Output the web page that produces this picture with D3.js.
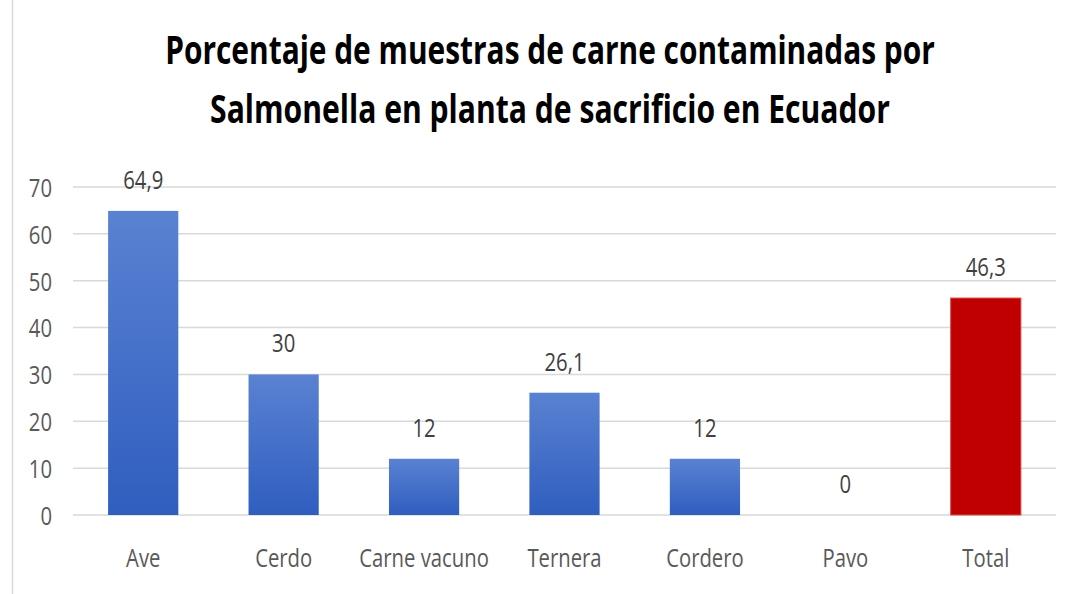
<!DOCTYPE html>
<html>
<head>
<meta charset="utf-8">
<script src="https://cdn.jsdelivr.net/npm/d3@7"></script>
<style>
  body { margin: 0; background: #fff; }
  text { font-family: "Open Sans", sans-serif; }
</style>
</head>
<body>
<div id="chart"></div>
<script>
var categories = ["Ave", "Cerdo", "Carne vacuno", "Ternera", "Cordero", "Pavo", "Total"];
var values = [64.9, 30, 12, 26.1, 12, 0, 46.3];
var valueLabels = ["64,9", "30", "12", "26,1", "12", "0", "46,3"];
var yTicks = [0, 10, 20, 30, 40, 50, 60, 70];
var titleLines = ["Porcentaje de muestras de carne contaminadas por", "Salmonella en planta de sacrificio en Ecuador"];

var width = 1079;
var height = 594;
var sx = 0.78; // horizontal squeeze of the text, like the source image

var svg = d3.select("#chart")
    .append("svg")
        .attr("width", width)
        .attr("height", height);

// gradient for the blue bars
var defs = svg.append("defs");
var grad = defs.append("linearGradient")
    .attr("id", "blueGrad")
    .attr("x1", 0).attr("y1", 0).attr("x2", 0).attr("y2", 1);
grad.append("stop").attr("offset", "0%").attr("stop-color", "#5a82d2");
grad.append("stop").attr("offset", "100%").attr("stop-color", "#2f5ebf");

// faint left border
svg.append("line")
    .attr("x1", 12.5).attr("x2", 12.5)
    .attr("y1", 0).attr("y2", height)
    .attr("stroke", "#d9d9d9")
    .attr("stroke-width", 1.5);

// title, squeezed to the width it has in the source
var titleWidths = [770, 680];
svg.selectAll(".title")
    .data(titleLines)
    .enter().append("text")
    .attr("class", "title")
    .attr("text-anchor", "middle")
    .attr("font-size", 40)
    .attr("font-weight", "bold")
    .attr("fill", "#000")
    .text(function(d){ return d; })
    .attr("transform", function(d, i){
        var s = titleWidths[i] / this.getComputedTextLength();
        return "translate(550," + (64 + i * 59) + ") scale(" + s + ",1)";
    });

var xscale = d3.scaleBand()
    .domain(categories)
    .range([73, 1056])
    .paddingInner(0.5)
    .paddingOuter(0.25);

var yscale = d3.scaleLinear()
    .domain([0, 70])
    .range([515, 187]);

// gridlines
svg.selectAll(".grid")
    .data(yTicks)
    .enter().append("line")
    .attr("class", "grid")
    .attr("x1", 73).attr("x2", 1056)
    .attr("y1", function(d){ return yscale(d); })
    .attr("y2", function(d){ return yscale(d); })
    .attr("stroke", "#d9d9d9")
    .attr("stroke-width", 1.5);

// y axis labels
var y_axis = d3.axisLeft(yscale)
    .tickValues(yTicks)
    .tickSize(0)
    .tickPadding(0);
var yg = svg.append("g")
    .attr("transform", "translate(52,0)")
    .call(y_axis);
yg.select(".domain").remove();
yg.selectAll("text")
    .attr("font-size", 26)
    .attr("font-family", "'Open Sans', sans-serif")
    .attr("fill", "#595959")
    .attr("x", null)
    .attr("dy", "0.36em")
    .attr("transform", "scale(" + sx + ",1)");

// bars
svg.selectAll(".bar")
    .data(values)
    .enter().append("rect")
    .attr("class", "bar")
    .attr("x", function(d, i){ return xscale(categories[i]); })
    .attr("width", xscale.bandwidth())
    .attr("y", function(d){ return yscale(d); })
    .attr("height", function(d){ return yscale(0) - yscale(d); })
    .attr("fill", function(d, i){ return categories[i] === "Total" ? "#c00000" : "url(#blueGrad)"; })
    .attr("stroke", function(d, i){ return categories[i] === "Total" ? "#d44a4a" : "none"; })
    .attr("stroke-width", 1);

// value labels
svg.selectAll(".vlab")
    .data(values)
    .enter().append("text")
    .attr("class", "vlab")
    .attr("text-anchor", "middle")
    .attr("font-size", 26)
    .attr("fill", "#404040")
    .attr("transform", function(d, i){
        var x = xscale(categories[i]) + xscale.bandwidth() / 2;
        var y = yscale(d) - 22;
        return "translate(" + x + "," + y + ") scale(" + sx + ",1)";
    })
    .text(function(d, i){ return valueLabels[i]; });

// x axis labels
var x_axis = d3.axisBottom(xscale)
    .tickSize(0)
    .tickPadding(0);
var xg = svg.append("g")
    .attr("transform", "translate(0,567)")
    .call(x_axis);
xg.select(".domain").remove();
xg.selectAll("text")
    .attr("font-size", 26)
    .attr("font-family", "'Open Sans', sans-serif")
    .attr("fill", "#595959")
    .attr("y", 0)
    .attr("dy", 0)
    .attr("transform", "scale(" + sx + ",1)");
</script>
</body>
</html>
